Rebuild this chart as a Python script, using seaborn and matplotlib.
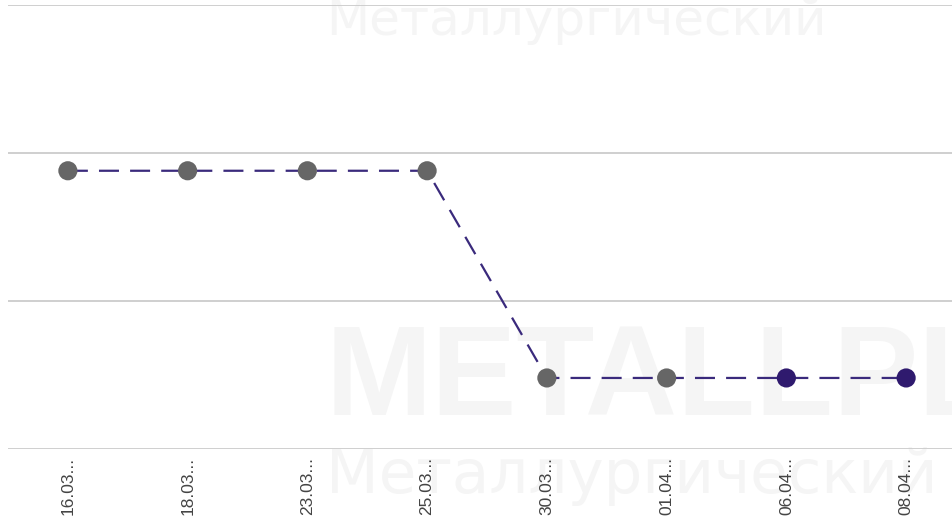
import matplotlib
matplotlib.use('Agg')
import matplotlib.pyplot as plt
import seaborn as sns
import pandas as pd

# Данные графика
dates = ['16.03...', '18.03...', '23.03...', '25.03...', '30.03...', '01.04...', '06.04...', '08.04...']
prices = [66440, 66440, 66440, 66440, 65740, 65740, 65740, 65740]
point_kind = ['old', 'old', 'old', 'old', 'old', 'old', 'new', 'new']
y_ticks = [65500, 66000, 66500, 67000]

LINE_COLOR = '#3a2a7c'
POINT_COLORS = {'old': '#666666', 'new': '#2f1a6e'}

df = pd.DataFrame({'date': dates, 'price': prices, 'kind': point_kind})
df['pos'] = range(len(df))

sns.set_style('white')
plt.rcParams['font.family'] = ['Liberation Sans', 'DejaVu Sans']

fig = plt.figure(figsize=(9.52, 5.16), dpi=100)
W, H = 952, 516
# ось шире рисунка: последняя категория уходит за правый край
ax = fig.add_axes([8 / W, (H - 449) / H, 958 / W, 444 / H])
ax.set_zorder(1)
ax.patch.set_alpha(0)

# водяной знак (очень бледный)
wm = '#f5f5f5'
fig.text(326 / W, 1 - 35 / H, 'Металлургический', fontsize=36, color=wm,
         family=['DejaVu Sans'], zorder=0)
fig.text(325 / W, 1 - 415 / H, 'METALLPLAST', fontsize=92, fontweight='bold',
         color=wm, zorder=0)
fig.text(326 / W, 1 - 493 / H, 'Металлургический', fontsize=44, color=wm,
         family=['DejaVu Sans'], zorder=0)

sns.lineplot(data=df, x='pos', y='price', ax=ax, color=LINE_COLOR, linewidth=1.6,
             linestyle=(0, (9, 5)), zorder=2)
sns.scatterplot(data=df, x='pos', y='price', hue='kind', palette=POINT_COLORS, ax=ax,
                s=190, edgecolor='none', legend=False, zorder=3)

ax.set_xlim(-0.5, len(dates) - 0.5)
ax.set_ylim(y_ticks[0], y_ticks[-1])
ax.set_yticks(y_ticks)
ax.set_yticklabels([])
ax.set_xticks(df['pos'])
ax.set_xticklabels(dates, rotation=90, fontsize=12.5, color='#444444', va='top')
ax.tick_params(axis='x', length=0, pad=6)
ax.tick_params(axis='y', length=0)
ax.grid(axis='y', color='#cccccc', linewidth=1.3)
ax.grid(axis='x', visible=False)
for s in ax.spines.values():
    s.set_visible(False)
ax.set_xlabel('')
ax.set_ylabel('')

fig.savefig('out.png', dpi=100)
